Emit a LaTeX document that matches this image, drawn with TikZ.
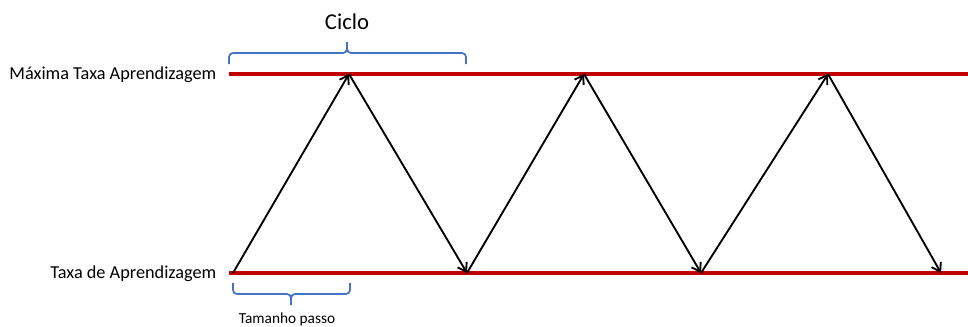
\documentclass[tikz,border=0pt]{standalone}
\usepackage{fontspec}
\setmainfont{Carlito}
\definecolor{lrred}{RGB}{192,0,0}
\definecolor{lrblue}{RGB}{68,114,196}
\usetikzlibrary{arrows.meta,positioning}

\begin{document}
\begin{tikzpicture}[x=0.75pt,y=-0.75pt]
  \useasboundingbox (0,0) rectangle (968,326);
  % Rate bounds
  \coordinate (maxL) at (229,74);
  \coordinate (maxR) at (968,74);
  \coordinate (minL) at (229,273);
  \coordinate (minR) at (968,273);
  \draw[lrred,line width=3pt] (maxL) -- (maxR);
  \draw[lrred,line width=3pt] (minL) -- (minR);
  % Bound labels
  \node[font=\fontsize{13.7}{16}\selectfont,anchor=east] (maxlbl) at (221,75) {Máxima Taxa Aprendizagem};
  \node[font=\fontsize{13.7}{16}\selectfont,anchor=east] (minlbl) at (221,274) {Taxa de Aprendizagem};
  % Zigzag schedule
  \foreach \x/\n in {233/b0,467/b1,701/b2,941/b3} \coordinate (\n) at (\x,273);
  \foreach \x/\n in {349/t0,584/t1,828/t2} \coordinate (\n) at (\x,74);
  \foreach \a/\b in {b0/t0,t0/b1,b1/t1,t1/b2,b2/t2,t2/b3}
    \draw[-{Straight Barb[length=6pt,width=8pt]},line width=1.4pt] (\a) -- (\b);
  % Cycle brace
  \draw[lrblue,line width=1.3pt,rounded corners=3pt] (229,64) -- (229,53) -- (347,53) -- (347,42);
  \draw[lrblue,line width=1.3pt,rounded corners=3pt] (466,64) -- (466,53) -- (347,53) -- (347,42);
  \node[font=\fontsize{17}{20}\selectfont] (ciclo) at (347,22) {Ciclo};
  % Step brace
  \draw[lrblue,line width=1.3pt,rounded corners=3pt] (233,283) -- (233,294) -- (291,294) -- (291,305);
  \draw[lrblue,line width=1.3pt,rounded corners=3pt] (350,283) -- (350,294) -- (291,294) -- (291,305);
  \node[font=\fontsize{11.5}{14}\selectfont,anchor=base] (passo) at (287,323) {Tamanho passo};
\end{tikzpicture}
\end{document}
